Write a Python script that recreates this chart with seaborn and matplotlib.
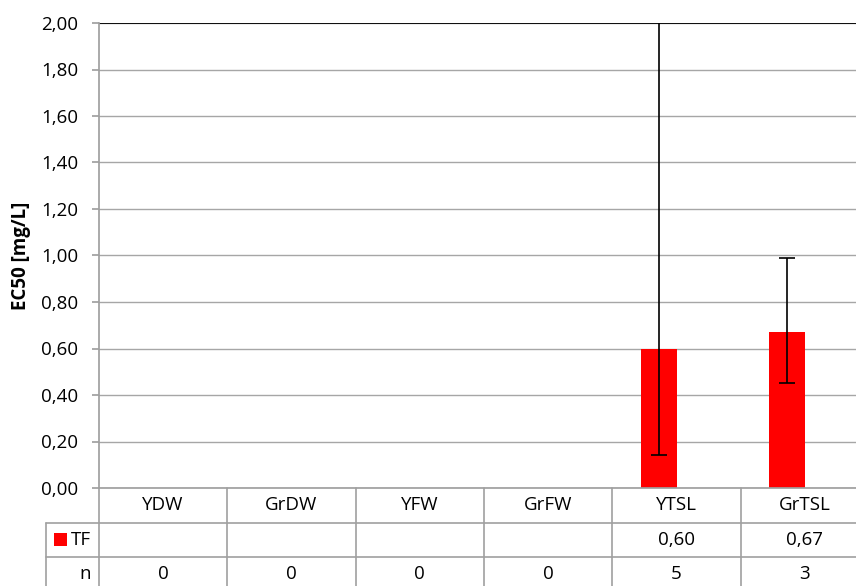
import numpy as np
import pandas as pd
import matplotlib
matplotlib.use("Agg")
import matplotlib.pyplot as plt
import matplotlib.transforms as mtransforms
from matplotlib.patches import Rectangle
from matplotlib.ticker import FuncFormatter, MultipleLocator
import seaborn as sns

categories = ["YDW", "GrDW", "YFW", "GrFW", "YTSL", "GrTSL"]
tf_values = [np.nan, np.nan, np.nan, np.nan, 0.60, 0.67]
err_low = [np.nan, np.nan, np.nan, np.nan, 0.14, 0.45]
err_high = [np.nan, np.nan, np.nan, np.nan, 2.50, 0.99]
n_values = [0, 0, 0, 0, 5, 3]
series_name = "TF"
hidden_series = "_hidden"
hidden_values = [0, 0, 0, 0, 0, 0]
y_label = "EC50 [mg/L]"

sns.set_theme(style="white")
plt.rcParams["font.family"] = ["Open Sans", "DejaVu Sans"]
FS = 13.5

W, H = 856, 586
fig = plt.figure(figsize=(W / 100, H / 100), dpi=100)
left_px, right_px, top_px, bot_px = 99, 869, 23, 488
ax = fig.add_axes([left_px / W, 1 - bot_px / H, (right_px - left_px) / W, (bot_px - top_px) / H])

df = pd.concat([
    pd.DataFrame({"cat": categories, "val": tf_values, "series": series_name}),
    pd.DataFrame({"cat": categories, "val": hidden_values, "series": hidden_series}),
], ignore_index=True)
sns.barplot(data=df, x="cat", y="val", hue="series", hue_order=[series_name, hidden_series],
            order=categories, palette={series_name: "#ff0000", hidden_series: "#ffffff"},
            width=0.56, errorbar=None, ax=ax, legend=False, saturation=1, linewidth=0)

xpos = np.arange(len(categories)) - 0.14
vals = np.array(tf_values)
lo = vals - np.array(err_low)
hi = np.array(err_high) - vals
mask = ~np.isnan(vals)
ax.errorbar(xpos[mask], vals[mask], yerr=[lo[mask], hi[mask]], fmt="none",
            ecolor="black", elinewidth=1.2, capsize=5.5, capthick=1.2, zorder=5)

ax.set_ylim(0, 2.0)
ax.set_xlim(-0.5, len(categories) - 0.5)
ax.yaxis.set_major_locator(MultipleLocator(0.2))
ax.yaxis.set_major_formatter(FuncFormatter(lambda v, p: f"{v:.2f}".replace(".", ",")))
ax.grid(axis="y", color="#a6a6a6", linewidth=1.0)
ax.set_axisbelow(True)
for s in ["top", "right"]:
    ax.spines[s].set_visible(False)
ax.spines["left"].set_color("#a0a0a0")
ax.spines["bottom"].set_color("#a0a0a0")
ax.axhline(2.0, color="black", linewidth=1.3, zorder=1)
ax.tick_params(axis="y", which="major", length=5, color="#a0a0a0", labelsize=FS, pad=10,
               left=True, labelcolor="black")
ax.tick_params(axis="x", bottom=False, labelbottom=False)
ax.set_xlabel("")
ax.set_ylabel(y_label, fontsize=FS, fontweight="bold", color="black")
ax.yaxis.set_label_coords(-(left_px - 21) / (right_px - left_px), 0.5)
ax.yaxis.label.set_va("center")

# data table below
trans = mtransforms.blended_transform_factory(ax.transData, ax.transAxes)
ax_h = bot_px - top_px
row_h = 34.5 / ax_h
px_per_unit = (right_px - left_px) / len(categories)
x_leftcol = -0.5 - (left_px - 46) / px_per_unit
lc = "#a0a0a0"
ybot = -4 * row_h
kw = dict(transform=trans, clip_on=False, color=lc, linewidth=1.2)
for i in range(len(categories) + 1):
    ax.plot([i - 0.5, i - 0.5], [0, ybot], **kw)
ax.plot([x_leftcol, x_leftcol], [-row_h, ybot], **kw)
for r in [1, 2]:
    ax.plot([x_leftcol, len(categories) - 0.5], [-r * row_h, -r * row_h], **kw)

for i, c in enumerate(categories):
    ax.text(i, -0.5 * row_h, c, transform=trans, ha="center", va="center", fontsize=FS,
            clip_on=False, color="black")
    if not np.isnan(tf_values[i]):
        ax.text(i, -1.5 * row_h, f"{tf_values[i]:.2f}".replace(".", ","), transform=trans,
                ha="center", va="center", fontsize=FS, clip_on=False, color="black")
    ax.text(i, -2.5 * row_h, str(n_values[i]), transform=trans, ha="center", va="center",
            fontsize=FS, clip_on=False, color="black")

sq_x0 = -0.5 - (left_px - 54) / px_per_unit
sq_w = 13 / px_per_unit
ax.add_patch(Rectangle((sq_x0, -1.5 * row_h - 6.5 / ax_h), sq_w, 13 / ax_h, transform=trans,
                       facecolor="#ff0000", edgecolor="none", clip_on=False))
ax.text(-0.5 - (left_px - 71) / px_per_unit, -1.5 * row_h, series_name, transform=trans,
        ha="left", va="center", fontsize=FS, clip_on=False, color="black")
ax.text(-0.5 - (left_px - 91) / px_per_unit, -2.5 * row_h, "n", transform=trans,
        ha="right", va="center", fontsize=FS, clip_on=False, color="black")

fig.savefig("out.png", dpi=100)
